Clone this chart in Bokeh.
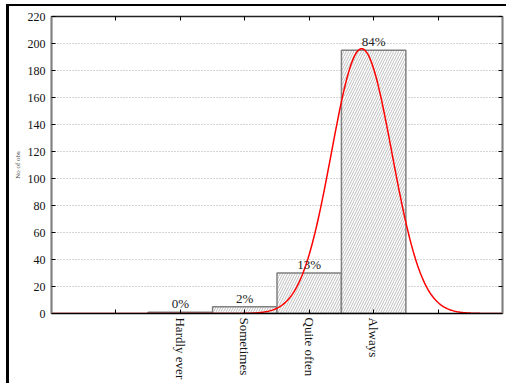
import numpy as np
from bokeh.plotting import figure
from bokeh.models import (ColumnDataSource, FixedTicker, LinearAxis, Range1d,
                          LabelSet)
from bokeh.embed import file_html
from bokeh.resources import INLINE

# Responses and the number of observations in each class
categories = ["Hardly ever", "Sometimes", "Quite often", "Always"]
counts = [1, 5, 30, 195]
positions = [1, 2, 3, 4]
y_ticks = list(range(0, 221, 20))

total = sum(counts)
percents = [f"{round(100 * c / total)}%" for c in counts]

# Normal curve fitted to the class scores (bin width = 1)
pos = np.array(positions, dtype=float)
cnt = np.array(counts, dtype=float)
mean = (pos * cnt).sum() / total
sd = np.sqrt(((pos - mean) ** 2 * cnt).sum() / total)
xc = np.linspace(-1, 6, 400)
yc = total * np.exp(-0.5 * ((xc - mean) / sd) ** 2) / (sd * np.sqrt(2 * np.pi))

FONT = "Liberation Serif"

p = figure(width=500, height=379, output_backend="svg", toolbar_location=None,
           x_range=Range1d(-1, 6), y_range=Range1d(0, 220),
           min_border_left=42, min_border_right=7, min_border_top=10,
           min_border_bottom=72)
# Page frame drawn around the chart (top and left edges)
p.margin = (4, 0, 0, 6)
p.styles = {"border-top": "2px solid black", "border-left": "3px solid black"}
p.background_fill_color = "white"
p.border_fill_color = "white"
p.outline_line_color = "#333333"
p.outline_line_width = 1.2

src = ColumnDataSource(dict(x=positions, top=counts, label=percents, cat=categories))
p.vbar(x="x", top="top", width=1.0, bottom=0, source=src,
       fill_color="white", line_color="#808080", line_width=1.5,
       hatch_pattern="/", hatch_scale=5, hatch_color="#a0a0a0", hatch_weight=0.7)

p.line(xc, yc, line_color="#ff0000", line_width=1.5)

labels = LabelSet(x="x", y="top", text="label", source=src, text_align="center",
                  text_baseline="bottom", y_offset=1, text_font=FONT,
                  text_font_size="13px", text_color="#222222")
p.add_layout(labels)

# Bottom axis: category names at the class positions
xt = FixedTicker(ticks=[0, 1, 2, 3, 4, 5])
xa = p.xaxis[0]
xa.ticker = xt
xa.major_label_overrides = {0: "", 1: categories[0], 2: categories[1],
                            3: categories[2], 4: categories[3], 5: ""}
xa.major_label_orientation = "vertical"
xa.major_label_text_font = FONT
xa.major_label_text_font_size = "13px"
xa.major_label_text_color = "#111111"
xa.axis_line_color = "black"
xa.axis_line_width = 1.5
xa.major_tick_in = 4
xa.major_tick_out = 0
xa.minor_tick_line_color = None
xa.major_label_standoff = 4

ya = p.yaxis[0]
ya.ticker = FixedTicker(ticks=y_ticks)
ya.axis_label = "No of obs"
ya.axis_label_text_font = FONT
ya.axis_label_text_font_size = "7px"
ya.axis_label_text_font_style = "normal"
ya.axis_label_standoff = 3
ya.major_label_text_font = FONT
ya.major_label_text_font_size = "12px"
ya.major_label_text_color = "#111111"
ya.axis_line_color = "#808080"
ya.axis_line_width = 2
ya.major_tick_in = 4
ya.major_tick_out = 0
ya.minor_tick_line_color = None
ya.major_label_standoff = 6

# Tick marks on the top and right edges of the frame, without labels
top_ax = LinearAxis(ticker=xt, major_label_overrides={t: "" for t in xt.ticks},
                    major_tick_in=4, major_tick_out=0, minor_tick_line_color=None,
                    axis_line_color="#222222", axis_line_width=1.5,
                    major_label_standoff=0)
right_ax = LinearAxis(ticker=FixedTicker(ticks=y_ticks),
                      major_label_overrides={t: "" for t in y_ticks},
                      major_tick_in=4, major_tick_out=0, minor_tick_line_color=None,
                      axis_line_color="#808080", axis_line_width=2,
                      major_label_standoff=0)
p.add_layout(top_ax, "above")
p.add_layout(right_ax, "right")

p.xgrid.grid_line_color = None
p.ygrid.grid_line_color = "#aaaaaa"
p.ygrid.grid_line_dash = "1 2"
p.ygrid.grid_line_width = 1

open("out.html", "w").write(file_html(p, INLINE))
